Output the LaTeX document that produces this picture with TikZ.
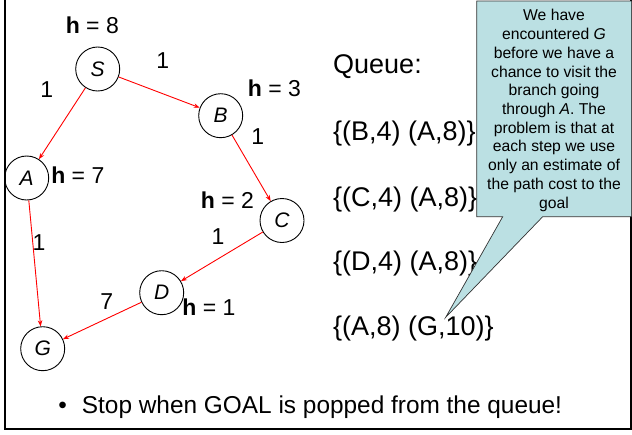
\documentclass[tikz,border=0pt]{standalone}
\usepackage{fontspec}
\setmainfont{Liberation Sans}
\usetikzlibrary{arrows.meta}
\definecolor{calloutfill}{RGB}{187,224,227}
\definecolor{edgered}{RGB}{255,0,0}
\tikzset{
  statenode/.style={circle, draw=black, line width=0.9pt, minimum size=44pt, inner sep=0pt,
    font=\fontsize{21}{25}\selectfont\itshape},
  hlabel/.style={inner sep=0pt, font=\fontsize{23}{27}\selectfont},
  wlabel/.style={inner sep=0pt, font=\fontsize{23}{27}\selectfont},
  queuetext/.style={anchor=base west, inner sep=0pt, font=\fontsize{27}{32}\selectfont},
  edgearrow/.style={draw=edgered, line width=0.9pt, -{Stealth[length=6pt,width=4.5pt]}},
  bullettext/.style={inner sep=0pt, font=\fontsize{24.4}{29}\selectfont}
}
\begin{document}
\begin{tikzpicture}[x=1pt,y=-1pt]
\useasboundingbox (0,0) rectangle (632,434);
% frame
\draw[line width=2pt, black] (5,-5) -- (5,429.3) -- (631,429.3) -- (631,-5);
% nodes
\node[statenode] (S) at (97.7,69) {S};
\node[statenode] (B) at (220.7,115.7) {B};
\node[statenode] (A) at (26.7,178) {A};
\node[statenode] (C) at (282,220.5) {C};
\node[statenode] (D) at (161.7,292.7) {D};
\node[statenode] (G) at (42.7,348.7) {G};
% edges
\draw[edgearrow] (S) -- (A);
\draw[edgearrow] (S) -- (B);
\draw[edgearrow] (B) -- (C);
\draw[edgearrow] (C) -- (D);
\draw[edgearrow] (A) -- (G);
\draw[edgearrow] (D) -- (G);
% weights
\node[wlabel] (wSB) at (162.7,61) {1};
\node[wlabel] (wSA) at (46.7,90) {1};
\node[wlabel] (wBC) at (257.7,136.7) {1};
\node[wlabel] (wAG) at (39,243) {1};
\node[wlabel] (wCD) at (218,237) {1};
\node[wlabel] (wDG) at (106.7,301.7) {7};
% heuristics
\node[hlabel] (hS) at (92.3,25) {\textbf{h} = 8};
\node[hlabel] (hB) at (274.5,88.3) {\textbf{h} = 3};
\node[hlabel] (hA) at (77.8,175.3) {\textbf{h} = 7};
\node[hlabel] (hC) at (227.5,200) {\textbf{h} = 2};
\node[hlabel] (hD) at (209,306.7) {\textbf{h} = 1};
% queue
\node[queuetext] (q0) at (333,73.3) {Queue:};
\node[queuetext] (q1) at (333,140) {\{(B,4) (A,8)\}};
\node[queuetext] (q2) at (333,206) {\{(C,4) (A,8)\}};
\node[queuetext] (q3) at (333,270) {\{(D,4) (A,8)\}};
\node[queuetext] (q4) at (333,335) {\{(A,8) (G,10)\}};
% callout
\coordinate (tip) at (445.7,317.3);
\filldraw[fill=calloutfill, draw=black!80, line width=0.7pt]
  (476.7,1) -- (631.7,1) -- (631.7,216.7) -- (542.7,216.7) -- (tip)
  -- (502.7,216.7) -- (476.7,216.7) -- cycle;
\node[anchor=north, inner sep=0pt, align=center, font=\fontsize{15.7}{18.73}\selectfont] (note) at (554,9.3)
  {We have\\ encountered \textit{G}\\ before we have a\\ chance to visit the\\ branch going\\ through \textit{A}. The\\ problem is that at\\ each step we use\\ only an estimate of\\ the path cost to the\\ goal};
% bullet
\node[bullettext, anchor=base] (dot) at (62.7,413.3) {•};
\node[bullettext, anchor=base west] (stop) at (81.7,413.3) {Stop when GOAL is popped from the queue!};
\end{tikzpicture}
\end{document}
